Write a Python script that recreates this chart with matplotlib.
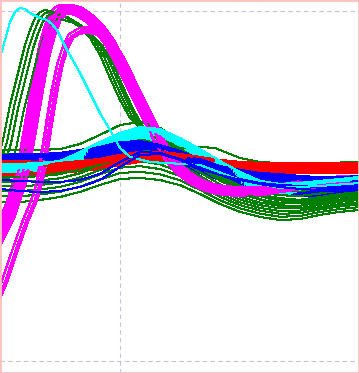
import numpy as np
import matplotlib
matplotlib.use("Agg")
import matplotlib.pyplot as plt

# sample grid shared by the bundled series
X = np.arange(-6, 13)

# bundle = mid curve + offset * spread (one line per offset)
RED_MID = [0.103, 0.103, 0.103, 0.103, 0.114, 0.126, 0.149, 0.166, 0.166, 0.154,
           0.137, 0.12, 0.109, 0.103, 0.103, 0.103, 0.103, 0.103, 0.103]
RED_SPREAD = [0.04, 0.04, 0.034, 0.029, 0.029, 0.029, 0.029, 0.029, 0.029, 0.029,
              0.029, 0.029, 0.029, 0.029, 0.029, 0.029, 0.029, 0.029, 0.029]
RED_OFFSETS = [-1.0, -0.8, -0.6, -0.4, -0.2, 0.0, 0.2, 0.4, 0.6, 0.8, 1.0]

BLUE_MID = [0.12, 0.126, 0.131, 0.143, 0.166, 0.183, 0.211, 0.217, 0.194, 0.16,
            0.114, 0.074, 0.046, 0.023, 0.011, 0.0, -0.006, -0.006, 0.0]
BLUE_SPREAD = [0.057, 0.057, 0.051, 0.046, 0.04, 0.04, 0.04, 0.04, 0.04, 0.04,
               0.04, 0.04, 0.046, 0.051, 0.057, 0.057, 0.057, 0.057, 0.057]
BLUE_OFFSETS = [-1.0, -0.8, -0.65, -0.5, -0.35, -0.2, -0.05, 0.1, 0.25, 0.45, 0.65, 0.85, 1.0]
BLUE_LOW1 = [0.034, 0.029, 0.023, 0.023, 0.034, 0.069, 0.137, 0.194, 0.189, 0.154,
             0.109, 0.069, 0.04, 0.017, 0.006, 0.0, -0.006, -0.006, 0.0]
BLUE_LOW2 = [-0.017, -0.029, -0.034, -0.029, -0.006, 0.034, 0.109, 0.177, 0.183, 0.149,
             0.103, 0.063, 0.034, 0.011, -0.006, -0.017, -0.023, -0.023, -0.017]

CYAN_MID = [0.097, 0.097, 0.103, 0.114, 0.16, 0.217, 0.263, 0.297, 0.286, 0.234,
            0.171, 0.103, 0.046, 0.0, -0.017, -0.011, 0.0, 0.011, 0.023]
CYAN_SPREAD = [0.029, 0.029, 0.029, 0.029, 0.034, 0.034, 0.04, 0.04, 0.04, 0.04,
               0.04, 0.04, 0.034, 0.029, 0.029, 0.029, 0.029, 0.029, 0.029]
CYAN_OFFSETS = [-1.0, -0.83, -0.67, -0.5, -0.33, -0.17, 0.0, 0.17, 0.33, 0.5, 0.67, 0.83, 1.0]
CYAN_EARLY_X = [-6, -5.75, -5.5, -5.25, -5, -4.75, -4.5, -4, -3.65, -3.4, -3.15, -2.9, -2.65,
                -2.25, -2, -1.5, -1, -0.5, 0, 0.5, 1.5, 4, 6, 8, 10, 12]
CYAN_EARLY = [0.731, 0.834, 0.937, 0.994, 1.017, 1.011, 0.989, 0.96, 0.949, 0.926, 0.891,
              0.834, 0.777, 0.697, 0.646, 0.531, 0.417, 0.32, 0.217, 0.166, 0.137, 0.12,
              0.034, -0.011, 0.0, 0.017]

GREEN_MID = [0.057, 0.057, 0.063, 0.074, 0.103, 0.149, 0.194, 0.206, 0.183, 0.131,
             0.063, -0.006, -0.057, -0.091, -0.109, -0.109, -0.091, -0.074, -0.063]
GREEN_SPREAD = [0.149, 0.149, 0.143, 0.137, 0.137, 0.143, 0.154, 0.16, 0.149, 0.126,
                0.109, 0.097, 0.091, 0.086, 0.086, 0.08, 0.074, 0.074, 0.074]
GREEN_OFFSETS = [-1.0, -0.78, -0.58, -0.4, -0.22, -0.05, 0.15, 0.38, 0.65, 1.0]
GREEN_EARLY_X = [-7, -6.5, -6, -5.85, -5.7, -5.5, -5.25, -5, -4.75, -4.5, -4.25, -4, -3.75,
                 -3.5, -3, -2.5, -2, -1.5, -1, -0.5, 0, 0.5, 1, 1.5, 2, 3, 4, 5, 6, 7,
                 8, 9, 10, 11, 12, 13]
GREEN_EARLY = [0.194, 0.2, 0.206, 0.263, 0.349, 0.463, 0.577, 0.691, 0.806, 0.891, 0.96,
               0.994, 1.006, 1.0, 0.983, 0.949, 0.909, 0.846, 0.749, 0.617, 0.491, 0.389,
               0.331, 0.303, 0.274, 0.206, 0.12, 0.046, -0.011, -0.051, -0.069, -0.08,
               -0.069, -0.051, -0.04, -0.04]
GREEN_EARLY_DX = [0.0, 0.2, 0.4, 0.65]
GREEN_EARLY_DY = [0.0, -0.01, -0.02, -0.05]
GREEN_LATE_X = [-6, -4, -2, -1, 0, 1, 2, 3, 4, 4.75, 5.5, 6, 7, 8, 10, 12]
GREEN_LATE = [0.046, 0.057, 0.091, 0.12, 0.16, 0.194, 0.211, 0.217, 0.223, 0.217,
              0.183, 0.16, 0.137, 0.131, 0.131, 0.137]

MAG_X = [-6.5, -6, -5.75, -5.5, -5.25, -5, -4.75, -4.5, -4.25, -4, -3.75, -3.5, -3.25,
         -3, -2.75, -2.5, -2, -1.5, -1, -0.5, 0, 0.5, 1, 1.5, 2, 2.5, 3, 3.5, 4, 4.5,
         5, 6, 7, 8, 9, 10, 11, 12, 13]
MAG_MID = [-0.377, -0.263, -0.206, -0.143, -0.057, 0.029, 0.16, 0.32, 0.486, 0.651,
           0.789, 0.891, 0.966, 1.0, 1.011, 1.011, 0.994, 0.954, 0.897, 0.817, 0.709,
           0.594, 0.48, 0.366, 0.251, 0.16, 0.091, 0.046, 0.011, -0.011, -0.023,
           -0.034, -0.029, -0.011, 0.006, 0.017, 0.029, 0.034, 0.034]
MAG_DX = [-0.28, -0.24, -0.2, -0.16, -0.12, -0.08, -0.04, 0.0, 0.04, 0.08, 0.12, 0.16,
          0.2, 0.24, 0.28, -0.22, 0.1, 0.26]
MAG_DY = [0.02, -0.01, 0.025, 0.0, -0.02, 0.015, -0.025, 0.01, 0.02, -0.01, 0.0, 0.015,
          -0.015, 0.01, -0.02, -0.015, 0.025, 0.0]
MAG_LOW_X = [-6.5, -6, -5.75, -5.5, -5.25, -5, -4.75, -4.5, -4.25, -4, -3.75, -3.5, -3.25,
             -3, -2.75, -2.5, -2, -1.5, -1, -0.5, 0, 0.5, 1, 1.5, 2, 2.5, 3, 3.5, 4, 4.5,
             5, 6, 7, 8, 9, 10, 11, 12, 13]
MAG_LOW = [-0.743, -0.606, -0.537, -0.451, -0.366, -0.286, -0.206, -0.137, -0.069, 0.034,
           0.206, 0.389, 0.56, 0.697, 0.789, 0.846, 0.88, 0.891, 0.88, 0.834, 0.743,
           0.629, 0.503, 0.366, 0.251, 0.16, 0.091, 0.046, 0.011, -0.011, -0.023,
           -0.034, -0.029, -0.011, 0.006, 0.017, 0.029, 0.034, 0.034]
MAG_LOW_DX = [0.15, 0.07, 0.0, -0.08, -0.18]
MAG_LOW_DY = [0.0, 0.01, -0.01, 0.02, -0.015]


def bundle(mid, spread, offsets):
    mid = np.asarray(mid)
    spread = np.asarray(spread)
    return [(X, mid + o * spread) for o in offsets]


def shifted(xs, ys, dxs, dys):
    xs = np.asarray(xs, dtype=float)
    ys = np.asarray(ys, dtype=float)
    return [(xs + dx, ys + dy) for dx, dy in zip(dxs, dys)]


# (colour, lines, how far into the draw order the group is spread)
groups = [
    ("#008000", bundle(GREEN_MID, GREEN_SPREAD, GREEN_OFFSETS)
     + shifted(GREEN_EARLY_X, GREEN_EARLY, GREEN_EARLY_DX, GREEN_EARLY_DY)
     + [(GREEN_LATE_X, GREEN_LATE)], 0.5),
    ("#ff00ff", shifted(MAG_X, MAG_MID, MAG_DX, MAG_DY)
     + shifted(MAG_LOW_X, MAG_LOW, MAG_LOW_DX, MAG_LOW_DY), 0.7),
    ("#ff0000", bundle(RED_MID, RED_SPREAD, RED_OFFSETS), 0.9),
    ("#0000ff", bundle(BLUE_MID, BLUE_SPREAD, BLUE_OFFSETS)
     + [(X, BLUE_LOW1), (X, BLUE_LOW2)], 1.0),
    ("#00ffff", bundle(CYAN_MID, CYAN_SPREAD, CYAN_OFFSETS)
     + [(CYAN_EARLY_X, CYAN_EARLY)], 1.0),
]

fig = plt.figure(figsize=(3.59, 3.73), dpi=100)
ax = fig.add_axes([0, 0, 1, 1])

order = []
for gi, (color, lines, reach) in enumerate(groups):
    for i, line in enumerate(lines):
        order.append(((i + 0.5) / len(lines) * reach, gi, color, line))
order.sort(key=lambda t: (t[0], t[1]))
for _, _, color, (xs, ys) in order:
    ax.plot(xs, ys, color=color, lw=0.75, antialiased=False)

ax.set_xlim(-6, 11.95)
ax.set_ylim(-1.069, 1.063)
ax.set_xticks([0])
ax.set_yticks([-1, 1])
ax.tick_params(length=0, labelbottom=False, labelleft=False)
ax.set_axisbelow(True)
ax.grid(True, color="#c8c0e0", linestyle=(0, (4, 3)), linewidth=0.8)
for s in ax.spines.values():
    s.set_color("#ffc0c0")
    s.set_linewidth(2)

fig.savefig("out.png", dpi=100)
